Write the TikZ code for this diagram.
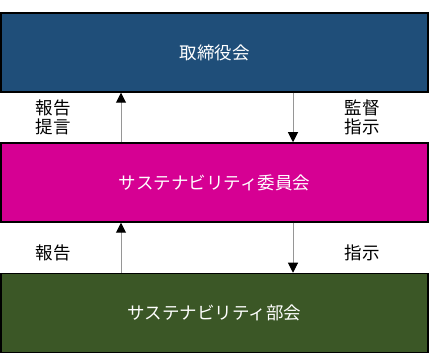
\documentclass[tikz,border=0pt]{standalone}
\usepackage{fontspec}
\setmainfont{Noto Sans CJK JP}
\usetikzlibrary{arrows.meta}
\definecolor{topblue}{RGB}{31,78,121}
\definecolor{midmag}{RGB}{214,0,147}
\definecolor{botgreen}{RGB}{59,87,38}
\definecolor{arrgrey}{RGB}{150,150,150}
\begin{document}
\begin{tikzpicture}[x=1pt,y=1pt,
  orgbox/.style={draw=black,line width=1.5pt,minimum width=427pt,minimum height=79pt,inner sep=0pt,text=white,font=\fontsize{17.5}{19}\selectfont},
  lbl/.style={font=\fontsize{17.5}{19}\selectfont,align=center,inner sep=0pt},
  flow/.style={draw=arrgrey,line width=1pt,-{Triangle[length=10pt,width=10pt,color=black]}}]
\useasboundingbox (0,0) rectangle (430,355);
\node[orgbox,fill=topblue] (board) at (214.5,302.5) {取締役会};
\node[orgbox,fill=midmag] (comm) at (214.5,172.5) {サステナビリティ委員会};
\node[orgbox,fill=botgreen] (dept) at (214.5,42) {サステナビリティ部会};
\coordinate (u1s) at (121,0 |- comm.north);
\coordinate (u1e) at (121,0 |- board.south);
\coordinate (d1s) at (293,0 |- board.south);
\coordinate (d1e) at (293,0 |- comm.north);
\coordinate (u2s) at (121,0 |- dept.north);
\coordinate (u2e) at (121,0 |- comm.south);
\coordinate (d2s) at (293,0 |- comm.south);
\coordinate (d2e) at (293,0 |- dept.north);
\draw[flow] (u1s) -- (u1e);
\draw[flow] (d1s) -- (d1e);
\draw[flow] (u2s) -- (u2e);
\draw[flow] (d2s) -- (d2e);
\node[lbl] (l1) at (53,237.5) {報告\\提言};
\node[lbl] (r1) at (362,237.5) {監督\\指示};
\node[lbl] (l2) at (53,102) {報告};
\node[lbl] (r2) at (362,102) {指示};
\end{tikzpicture}
\end{document}
